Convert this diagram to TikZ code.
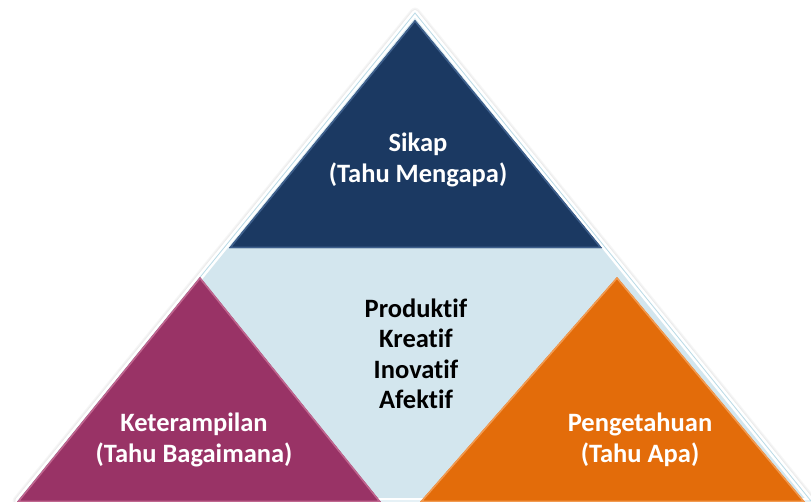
\documentclass[tikz,border=0pt]{standalone}
\usepackage{fontspec}
\setmainfont[Ligatures=NoCommon]{Carlito}
\begin{document}
\definecolor{paleblue}{HTML}{D3E6EE}
\definecolor{rimblue}{HTML}{B9DAE6}
\definecolor{navy}{HTML}{1B3962}
\definecolor{navyhi}{HTML}{3E5F8C}
\definecolor{plum}{HTML}{993366}
\definecolor{plumhi}{HTML}{C0668F}
\definecolor{amber}{HTML}{E36C0A}
\definecolor{amberhi}{HTML}{F29A50}
\tikzset{
  lbl/.style={font=\bfseries\fontsize{26.5}{30.5}\selectfont, align=center, inner sep=0pt},
  whitelbl/.style={lbl, text=white},
  darklbl/.style={lbl, text=black}
}
\begin{tikzpicture}[x=1pt,y=-1pt]
\useasboundingbox (0,0) rectangle (811,501);
\clip (0,0) rectangle (811,501);
% corner points of the big triangle and the three coloured ones
\coordinate (Oa) at (415,13);
\coordinate (Ol) at (18,501);
\coordinate (Or) at (811,501);
\coordinate (Ta) at (415,20);
\coordinate (Tl) at (229,248);
\coordinate (Tr) at (602,248);
\coordinate (La) at (200,277);
\coordinate (Ll) at (17,502);
\coordinate (Lr) at (381,502);
\coordinate (Ra) at (617,277);
\coordinate (Rl) at (420,502);
\coordinate (Rr) at (805,502);
% soft shadow round the big triangle
\foreach \w/\c in {11/3,9/5,7.5/8}
  \draw[line width=\w pt, black!\c, line join=round] (Oa) -- (Ol) -- (Or) -- cycle;
% big pale triangle with its white rim
\fill[paleblue] (Oa) -- (Ol) -- (Or) -- cycle;
\draw[white, line width=6pt, line join=round] (Oa) -- (Ol) -- (Or) -- cycle;
\draw[rimblue, line width=0.8pt, line join=miter] (Oa) -- (Ol) -- (Or) -- cycle;
% top triangle
\fill[navy] (Ta) -- (Tl) -- (Tr) -- cycle;
\begin{scope}
  \clip (Ta) -- (Tl) -- (Tr) -- cycle;
  \draw[navyhi, line width=3pt, line join=miter] (Ta) -- (Tl) -- (Tr) -- cycle;
\end{scope}
% lower left triangle
\fill[plum] (La) -- (Ll) -- (Lr) -- cycle;
\begin{scope}
  \clip (La) -- (Ll) -- (Lr) -- cycle;
  \draw[plumhi, line width=3pt, line join=miter] (La) -- (Ll) -- (Lr) -- cycle;
\end{scope}
% lower right triangle
\fill[amber] (Ra) -- (Rl) -- (Rr) -- cycle;
\begin{scope}
  \clip (Ra) -- (Rl) -- (Rr) -- cycle;
  \draw[amberhi, line width=3pt, line join=miter] (Ra) -- (Rl) -- (Rr) -- cycle;
\end{scope}
% labels
\node[whitelbl] (sikap) at (418,160) {Sikap\\(Tahu Mengapa)};
\node[darklbl] (tengah) at (416,354) {Produktif\\Kreatif\\Inovatif\\Afektif};
\node[whitelbl] (ketrampilan) at (194,440) {Keterampilan\\(Tahu Bagaimana)};
\node[whitelbl] (pengetahuan) at (640,440) {Pengetahuan\\(Tahu Apa)};
\end{tikzpicture}
\end{document}
